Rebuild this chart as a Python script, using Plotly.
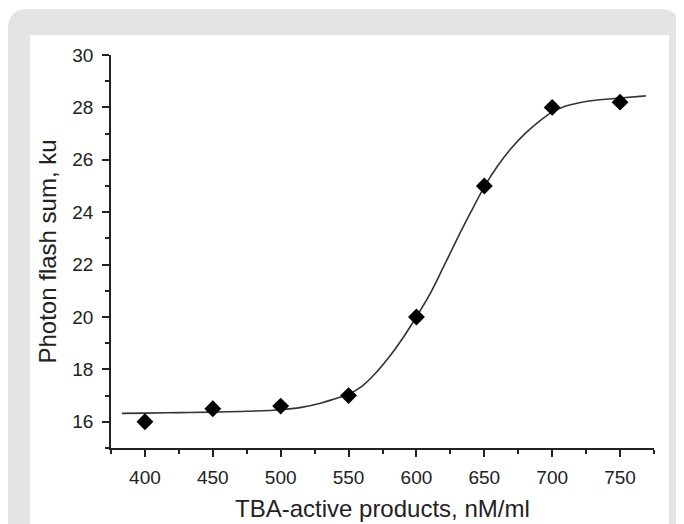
import plotly.graph_objects as go

# Measured data points
x_points = [400, 450, 500, 550, 600, 650, 700, 750]
y_points = [16.0, 16.5, 16.6, 17.0, 20.0, 25.0, 28.0, 28.2]

# Fitted curve
x_curve = [383, 400, 425, 450, 475, 500, 515, 530, 540, 550, 560, 570, 580, 590,
           600, 610, 620, 630, 640, 650, 660, 670, 680, 690, 700, 710, 720, 735,
           750, 769]
y_curve = [16.32, 16.33, 16.35, 16.37, 16.40, 16.46, 16.55, 16.72, 16.88, 17.05,
           17.36, 17.86, 18.48, 19.20, 20.01, 20.88, 21.92, 22.98, 24.00, 24.97,
           25.78, 26.45, 27.00, 27.45, 27.82, 28.05, 28.18, 28.29, 28.36, 28.44]

x_ticks = [400, 450, 500, 550, 600, 650, 700, 750]
y_ticks = [16, 18, 20, 22, 24, 26, 28, 30]

OFF = 8  # page body margin
W, H = 684 - OFF, 524 - OFF
L, R, T, B = 111 - OFF, 654 - OFF, 55 - OFF, 448 - OFF


def px(xp):
    return (xp - OFF - L) / (R - L)


def py(yp):
    return (B - (yp - OFF)) / (B - T)


def rounded_rect(x0, y0, x1, y1, r):
    return (f"M {px(x0)},{py(y0 + r)} Q {px(x0)},{py(y0)} {px(x0 + r)},{py(y0)} "
            f"L {px(x1 - r)},{py(y0)} Q {px(x1)},{py(y0)} {px(x1)},{py(y0 + r)} "
            f"L {px(x1)},{py(y1)} L {px(x0)},{py(y1)} Z")


fig = go.Figure()
fig.add_trace(go.Scatter(x=x_curve, y=y_curve, mode="lines",
                         line=dict(color="#333333", width=1.6, shape="spline",
                                   smoothing=1.0),
                         hoverinfo="skip", showlegend=False))
fig.add_trace(go.Scatter(x=x_points, y=y_points, mode="markers",
                         marker=dict(symbol="diamond", size=13, color="black"),
                         showlegend=False))

font_family = "Liberation Sans, Arial, sans-serif"

fig.update_layout(
    width=W, height=H,
    margin=dict(l=L, r=W - R, t=T, b=H - B),
    paper_bgcolor="white",
    plot_bgcolor="rgba(0,0,0,0)",
    font=dict(family=font_family, color="#222222", size=19),
    shapes=[
        dict(type="path", xref="paper", yref="paper", layer="below",
             path=rounded_rect(8, 9, 680, 560, 20),
             fillcolor="#e4e4e4", line=dict(width=0)),
        dict(type="rect", xref="paper", yref="paper", layer="below",
             x0=px(30), x1=px(669), y0=py(35), y1=py(560),
             fillcolor="white", line=dict(width=0)),
    ],
    annotations=[
        dict(text="TBA-active products, nM/ml", xref="paper", yref="paper",
             x=0.5, y=py(508), xanchor="center", yanchor="middle",
             showarrow=False, font=dict(size=24, family=font_family, color="#222222")),
        dict(text="Photon flash sum, ku", xref="paper", yref="paper",
             x=px(47), y=py(251.5), xanchor="center", yanchor="middle",
             textangle=-90, showarrow=False,
             font=dict(size=24, family=font_family, color="#222222")),
    ],
)

fig.update_xaxes(
    range=[375, 775], tickmode="array", tickvals=x_ticks,
    ticktext=[str(v) for v in x_ticks],
    showgrid=False, zeroline=False, showline=True, linecolor="#222222", linewidth=1.5,
    ticks="outside", ticklen=7, tickwidth=1.5, tickcolor="#222222",
    ticklabelstandoff=4,
    minor=dict(ticks="outside", ticklen=4, tickwidth=1.5, tickcolor="#222222",
               tickmode="linear", tick0=375, dtick=25, showgrid=False),
)
fig.update_yaxes(
    range=[15, 30], tickmode="array", tickvals=y_ticks,
    ticktext=[str(v) for v in y_ticks],
    showgrid=False, zeroline=False, showline=True, linecolor="#222222", linewidth=1.5,
    ticks="outside", ticklen=7, tickwidth=1.5, tickcolor="#222222",
    ticklabelstandoff=5,
    minor=dict(ticks="outside", ticklen=4, tickwidth=1.5, tickcolor="#222222",
               tickmode="linear", tick0=15, dtick=1, showgrid=False),
)

fig.write_html("out.html")
